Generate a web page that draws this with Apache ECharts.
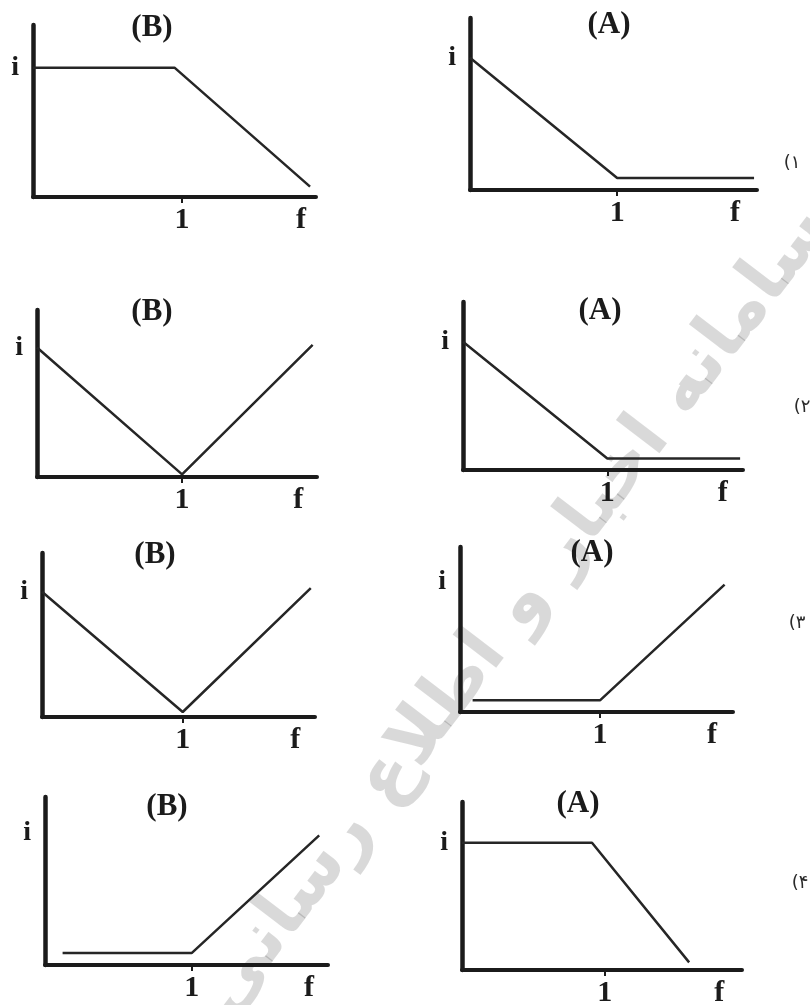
<!DOCTYPE html>
<html><head><meta charset="utf-8">
<script src="https://cdn.jsdelivr.net/npm/echarts@6/dist/echarts.min.js"></script>
<style>html,body{margin:0;padding:0;background:#fff}#c{width:810px;height:1005px}</style>
</head><body><div id="c"></div>
<script>
// ---- data ----
const panelTitles = ['(B)','(A)','(B)','(A)','(B)','(A)','(B)','(A)'];
const rowLabels = ['(۱','(۲','(۳','(۴'];
const xTickValues = [1];
const xLabelValues = [1, 1.8];
const xLabelTexts = ['1','f'];
const yLabelValues = [1];
const yLabelTexts = ['i'];
const watermarkText = 'سامانه اخبار و اطلاع رسانی';

const f1B = [0, 0.95, 1.86], i1B = [1, 1, 0.08];
const f1A = [0, 1, 1.93],    i1A = [1, 0.09, 0.09];
const f2B = [0, 1, 1.90],    i2B = [1, 0.02, 1.02];
const f2A = [0, 1, 1.92],    i2A = [1, 0.09, 0.09];
const f3B = [0, 1, 1.91],    i3B = [1, 0.04, 1.03];
const f3A = [0.09, 1, 1.89], i3A = [0.09, 0.09, 0.98];
const f4B = [0.12, 1, 1.87], i4B = [0.09, 0.09, 0.98];
const f4A = [0, 0.91, 1.59], i4A = [1, 1, 0.06];
const panelF = [f1B, f1A, f2B, f2A, f3B, f3A, f4B, f4A];
const panelI = [i1B, i1A, i2B, i2A, i3B, i3A, i4B, i4A];

// ---- layout (pixels / axis extents) ----
const layout = [
  {L:33,  T:25,  R:316, B:197, xMax:1.90, yMax:1.33, tx:152, ty:28},
  {L:470, T:18,  R:757, B:190, xMax:1.95, yMax:1.30, tx:609, ty:25},
  {L:37,  T:310, R:317, B:477, xMax:1.93, yMax:1.29, tx:152, ty:312},
  {L:463, T:302, R:743, B:470, xMax:1.94, yMax:1.31, tx:600, ty:311},
  {L:42,  T:553, R:315, B:717, xMax:1.94, yMax:1.31, tx:155, ty:555},
  {L:460, T:547, R:733, B:712, xMax:1.95, yMax:1.27, tx:592, ty:553},
  {L:45,  T:797, R:328, B:965, xMax:1.93, yMax:1.27, tx:167, ty:807},
  {L:462, T:802, R:742, B:970, xMax:1.96, yMax:1.32, tx:578, ty:804}
];
const rowLabelPos = [[792,163],[802,407],[797,623],[800,883]];

const serif = "'Liberation Serif','Times New Roman',serif";
const ink = '#1b1b1b';

const grids = [], xAxes = [], yAxes = [], series = [], graphics = [];
layout.forEach((g, k) => {
  grids.push({left:g.L, top:g.T, width:g.R-g.L, height:g.B-g.T, outerBoundsMode:'none', containLabel:false});
  xAxes.push({
    gridIndex:k, type:'value', min:0, max:g.xMax,
    axisLine:{show:true, onZero:false, lineStyle:{color:ink, width:4}},
    axisTick:{show:true, customValues:xTickValues, length:6, lineStyle:{color:ink, width:2}},
    axisLabel:{show:true, customValues:xLabelValues, margin:8,
      formatter:v => xLabelTexts[xLabelValues.indexOf(v)],
      color:ink, fontFamily:serif, fontWeight:'bold', fontSize:30},
    splitLine:{show:false}
  });
  yAxes.push({
    gridIndex:k, type:'value', min:0, max:g.yMax,
    axisLine:{show:true, onZero:false, lineStyle:{color:ink, width:4.5}},
    axisTick:{show:false},
    axisLabel:{show:true, customValues:yLabelValues, margin:14,
      formatter:v => yLabelTexts[yLabelValues.indexOf(v)],
      color:ink, fontFamily:serif, fontWeight:'bold', fontSize:28},
    splitLine:{show:false}
  });
  series.push({
    type:'line', xAxisIndex:k, yAxisIndex:k, symbol:'none', showSymbol:false,
    data: panelF[k].map((x, j) => [x, panelI[k][j]]),
    lineStyle:{color:'#262626', width:2.5}, z:3, clip:false
  });
  graphics.push({type:'text', x:g.tx, y:g.ty, z:5,
    style:{text:panelTitles[k], fill:ink, font:"bold 31px 'Liberation Serif','Times New Roman',serif",
      align:'center', verticalAlign:'middle'}});
});
rowLabels.forEach((t, r) => {
  graphics.push({type:'text', x:rowLabelPos[r][0], y:rowLabelPos[r][1], z:5,
    style:{text:t, fill:'#2a2a2a', font:"18px 'DejaVu Sans',sans-serif", align:'center', verticalAlign:'middle'}});
});
graphics.unshift({type:'text', x:515, y:612, rotation:0.92, z:-1,
  style:{text:watermarkText, fill:'rgba(0,0,0,0.15)', font:"bold 72px 'DejaVu Sans',sans-serif",
    align:'center', verticalAlign:'middle'}});

const chart = echarts.init(document.getElementById('c'), null, {renderer:'canvas'});
chart.setOption({
  animation:false,
  backgroundColor:'#ffffff',
  grid:grids, xAxis:xAxes, yAxis:yAxes, series:series,
  graphic:graphics
});
</script>
</body></html>
